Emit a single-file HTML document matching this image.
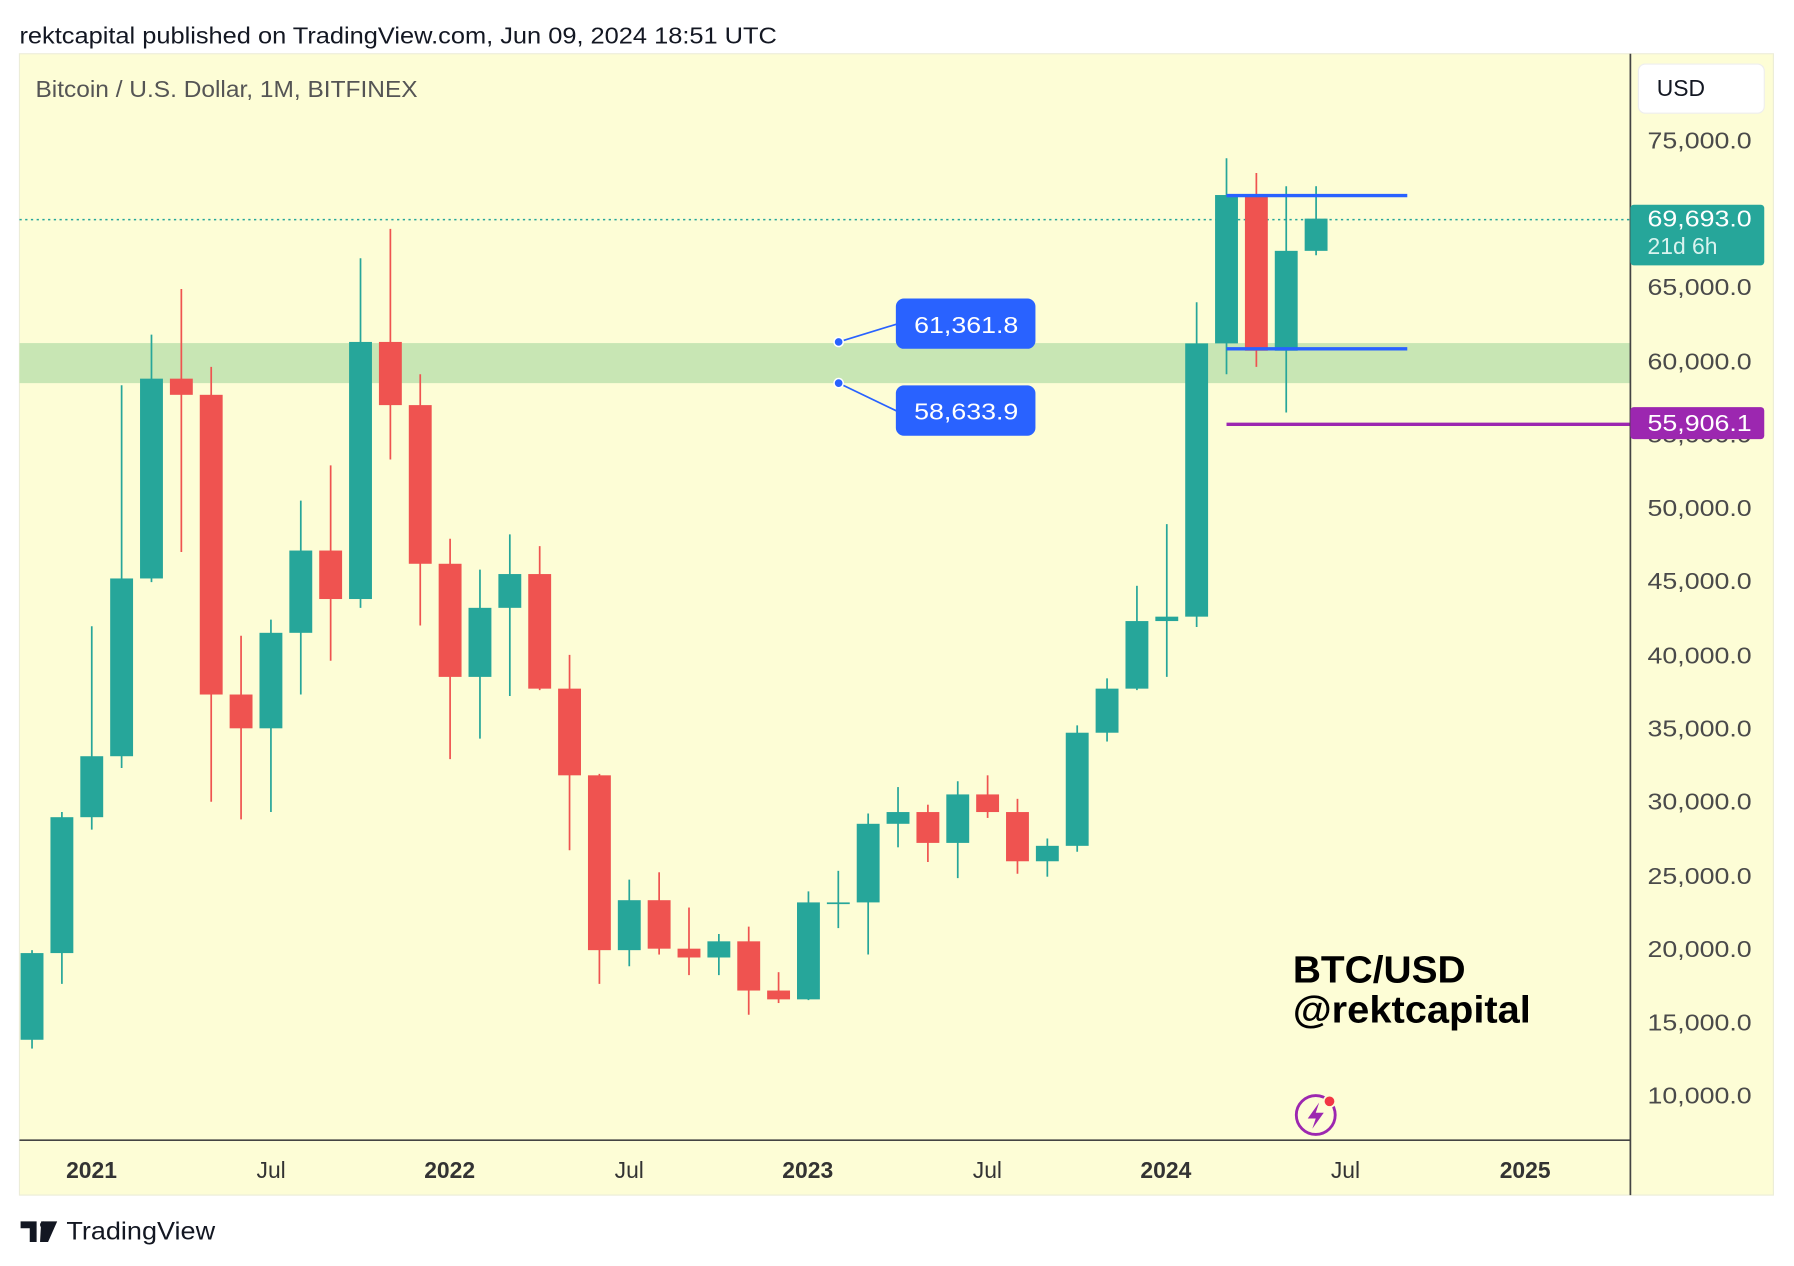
<!DOCTYPE html>
<html><head><meta charset="utf-8"><style>
html,body{margin:0;padding:0;background:#fff;}
svg{display:block;}
text{font-family:"Liberation Sans",sans-serif;}
</style></head><body>
<svg id="s" width="1794" height="1266" viewBox="0 0 1568 1107" preserveAspectRatio="none" xmlns="http://www.w3.org/2000/svg">
<rect x="0" y="0" width="1568" height="1107" fill="#ffffff"/>
<text x="17" y="38" font-size="20" fill="#131722" textLength="662" lengthAdjust="spacingAndGlyphs">rektcapital published on TradingView.com, Jun 09, 2024 18:51 UTC</text>
<rect x="17" y="47" width="1533" height="998" fill="#fdfdd6" stroke="#ecedd8" stroke-width="1"/>
<rect x="17" y="300" width="1408" height="35" fill="#c8e6b4"/>
<line x1="17" y1="192" x2="1425" y2="192" stroke="#26a69a" stroke-width="1.3" stroke-dasharray="2,3"/>
<g id="candles"></g>
<line x1="1072" y1="171" x2="1230" y2="171" stroke="#2962ff" stroke-width="3"/>
<line x1="1072" y1="305" x2="1230" y2="305" stroke="#2962ff" stroke-width="3"/>
<line x1="1072" y1="371" x2="1425" y2="371" stroke="#9c27b0" stroke-width="3"/>
<line x1="733" y1="299" x2="785" y2="283" stroke="#2962ff" stroke-width="1.5"/>
<line x1="733" y1="335" x2="785" y2="360" stroke="#2962ff" stroke-width="1.5"/>
<circle cx="733" cy="299" r="4" fill="#2962ff" stroke="#fff" stroke-width="1.3"/>
<circle cx="733" cy="335" r="4" fill="#2962ff" stroke="#fff" stroke-width="1.3"/>
<rect x="783" y="261" width="122" height="44" rx="7" fill="#2962ff"/>
<text x="799" y="291" font-size="20" fill="#fff" textLength="91" lengthAdjust="spacingAndGlyphs">61,361.8</text>
<rect x="783" y="337" width="122" height="44" rx="7" fill="#2962ff"/>
<text x="799" y="367" font-size="20" fill="#fff" textLength="91" lengthAdjust="spacingAndGlyphs">58,633.9</text>
<text x="31" y="85" font-size="20" fill="#555" textLength="334" lengthAdjust="spacingAndGlyphs">Bitcoin / U.S. Dollar, 1M, BITFINEX</text>
<line x1="1425" y1="47" x2="1425" y2="1045" stroke="#444" stroke-width="1.5"/>
<line x1="17" y1="997" x2="1425" y2="997" stroke="#444" stroke-width="1.5"/>
<rect x="1432" y="56" width="110" height="43" rx="6" fill="#fff" stroke="#eee"/>
<text x="1448" y="84" font-size="20" fill="#131722">USD</text>
<g font-size="20" fill="#4a4a4a">
<text x="1440" y="130" textLength="91" lengthAdjust="spacingAndGlyphs">75,000.0</text>
<text x="1440" y="258" textLength="91" lengthAdjust="spacingAndGlyphs">65,000.0</text>
<text x="1440" y="323" textLength="91" lengthAdjust="spacingAndGlyphs">60,000.0</text>
<text x="1440" y="451" textLength="91" lengthAdjust="spacingAndGlyphs">50,000.0</text>
<text x="1440" y="515" textLength="91" lengthAdjust="spacingAndGlyphs">45,000.0</text>
<text x="1440" y="580" textLength="91" lengthAdjust="spacingAndGlyphs">40,000.0</text>
<text x="1440" y="644" textLength="91" lengthAdjust="spacingAndGlyphs">35,000.0</text>
<text x="1440" y="708" textLength="91" lengthAdjust="spacingAndGlyphs">30,000.0</text>
<text x="1440" y="773" textLength="91" lengthAdjust="spacingAndGlyphs">25,000.0</text>
<text x="1440" y="837" textLength="91" lengthAdjust="spacingAndGlyphs">20,000.0</text>
<text x="1440" y="901" textLength="91" lengthAdjust="spacingAndGlyphs">15,000.0</text>
<text x="1440" y="965" textLength="91" lengthAdjust="spacingAndGlyphs">10,000.0</text>
<text x="1440" y="387" textLength="91" lengthAdjust="spacingAndGlyphs">55,000.0</text>
</g>
<rect x="1425" y="179" width="117" height="53" rx="3" fill="#26a69a"/>
<text x="1440" y="198" font-size="20" fill="#fff" textLength="91" lengthAdjust="spacingAndGlyphs">69,693.0</text>
<text x="1440" y="222" font-size="20" fill="#d9f3ef">21d 6h</text>
<rect x="1425" y="356" width="117" height="28" rx="3" fill="#9c27b0"/>
<text x="1440" y="377" font-size="20" fill="#fff" textLength="91" lengthAdjust="spacingAndGlyphs">55,906.1</text>
<g font-size="20" fill="#333" text-anchor="middle">
<text x="80" y="1030" font-weight="bold">2021</text>
<text x="237" y="1030">Jul</text>
<text x="393" y="1030" font-weight="bold">2022</text>
<text x="550" y="1030">Jul</text>
<text x="706" y="1030" font-weight="bold">2023</text>
<text x="863" y="1030">Jul</text>
<text x="1019" y="1030" font-weight="bold">2024</text>
<text x="1176" y="1030">Jul</text>
<text x="1333" y="1030" font-weight="bold">2025</text>
</g>
<text x="1130" y="859" font-size="33" font-weight="bold" fill="#000" textLength="151" lengthAdjust="spacingAndGlyphs">BTC/USD</text>
<text x="1130" y="894" font-size="33" font-weight="bold" fill="#000" textLength="208" lengthAdjust="spacingAndGlyphs">@rektcapital</text>
<circle cx="1150" cy="975" r="17" fill="none" stroke="#9c27b0" stroke-width="2.5"/>
<path d="M1153 964 L1143 978 L1150 978 L1147 987 L1157 973 L1150 973 Z" fill="#9c27b0"/>
<circle cx="1162" cy="963" r="5" fill="#f23645" stroke="#fdfdd6" stroke-width="1.5"/>
<path d="M18 1068 H32 V1086 H26 V1074 H18 Z M36 1068 H50 L42 1086 H35 Z" fill="#131722"/>
<circle cx="38" cy="1071" r="3" fill="#131722"/>
<text x="58" y="1084" font-size="22" fill="#131722" textLength="130" lengthAdjust="spacingAndGlyphs">TradingView</text>
</svg>
<script>
var d=[[13800,19900,13200,19700],[19700,29300,17600,28950],[28950,41950,28100,33100],[33100,58350,32300,45200],[45200,61800,44950,58800],[58800,64900,47000,57700],[57700,59600,30000,37300],[37300,41300,28800,35000],[35000,42400,29300,41500],[41500,50500,37300,47100],[47100,52900,39600,43800],[43800,67000,43200,61300],[61300,69000,53300,57000],[57000,59100,42000,46200],[46200,47900,32900,38500],[38500,45800,34300,43200],[43200,48200,37200,45500],[45500,47400,37600,37700],[37700,40000,26700,31800],[31800,31900,17600,19900],[19900,24700,18800,23300],[23300,25200,19600,20000],[20000,22800,18200,19400],[19400,21000,18200,20500],[20500,21500,15500,17150],[17150,18400,16300,16550],[16550,23900,16500,23150],[23150,25300,21400,23150],[23150,29200,19600,28500],[28500,31000,26900,29300],[29300,29800,25900,27200],[27200,31400,24800,30500],[30500,31800,28900,29300],[29300,30200,25100,25950],[25950,27500,24900,27000],[27000,35200,26600,34700],[34700,38400,34100,37700],[37700,44700,37600,42300],[42300,48900,38500,42600],[42600,64000,41900,61200],[61200,73800,59100,71300],[71300,72800,59600,60700],[60700,71900,56500,67500],[67500,71900,67200,69693]];
function y(p){return 123+(75000-p)*0.012846;}
var g=document.getElementById('candles'),h='';
d.forEach(function(c,i){var x=28+i*26.1,up=c[3]>=c[0],col=up?'#26a69a':'#ef5350';
var t=y(Math.max(c[0],c[3])),b=y(Math.min(c[0],c[3]));if(b-t<1.5)b=t+1.5;
h+='<line x1="'+x+'" x2="'+x+'" y1="'+y(c[1])+'" y2="'+y(c[2])+'" stroke="'+col+'" stroke-width="1.5"/>';
h+='<rect x="'+(x-10)+'" y="'+t+'" width="20" height="'+(b-t)+'" fill="'+col+'"/>';});
g.innerHTML=h;
</script>
</body></html>
